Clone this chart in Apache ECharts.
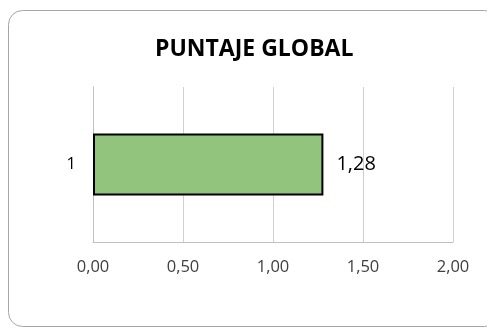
<!DOCTYPE html>
<html>
<head>
<meta charset="utf-8">
<script src="https://cdn.jsdelivr.net/npm/echarts@6/dist/echarts.min.js"></script>
<style>
  html, body { margin: 0; padding: 0; background: #fff; }
  #chart { width: 487px; height: 328px; }
</style>
</head>
<body>
<div id="chart"></div>
<script>
const titleText = 'PUNTAJE GLOBAL';
const categories = ['1'];
const values = [1.28];
const xTicks = [0, 0.5, 1, 1.5, 2];

const fmt = v => v.toFixed(2).replace('.', ',');

const chart = echarts.init(document.getElementById('chart'), null, { renderer: 'canvas' });
chart.setOption({
  animation: false,
  backgroundColor: '#ffffff',
  graphic: [{
    type: 'rect',
    shape: { x: 8.5, y: 10.5, width: 490, height: 316, r: 14 },
    style: { fill: 'none', stroke: '#a6a6a6', lineWidth: 1 },
    silent: true
  }],
  title: {
    text: titleText,
    left: 150,
    top: 33,
    textStyle: { fontFamily: 'Open Sans', fontWeight: 'bold', fontSize: 23, color: '#000' }
  },
  grid: { left: 93, right: 34, top: 87, bottom: 86, containLabel: false },
  xAxis: {
    type: 'value',
    min: xTicks[0],
    max: xTicks[xTicks.length - 1],
    interval: 0.5,
    axisLine: { show: true, lineStyle: { color: '#bfbfbf', width: 1 } },
    axisTick: { show: false },
    splitLine: { show: true, lineStyle: { color: '#d0d0d0', width: 1 } },
    axisLabel: {
      formatter: fmt, margin: 17,
      fontFamily: 'Open Sans', fontSize: 16.5, color: '#404040'
    }
  },
  yAxis: {
    type: 'category',
    data: categories,
    axisLine: { show: true, lineStyle: { color: '#bfbfbf', width: 1 } },
    axisTick: { show: false },
    axisLabel: { margin: 17, fontFamily: 'Open Sans', fontSize: 16.5, color: '#000' }
  },
  series: [{
    type: 'bar',
    data: values,
    barWidth: '40%',
    itemStyle: { color: '#93c47d', borderColor: '#000', borderWidth: 2 },
    label: {
      show: true, position: 'right', distance: 13,
      formatter: p => fmt(p.value),
      fontFamily: 'Open Sans', fontSize: 20, color: '#000'
    }
  }]
});
</script>
</body>
</html>
